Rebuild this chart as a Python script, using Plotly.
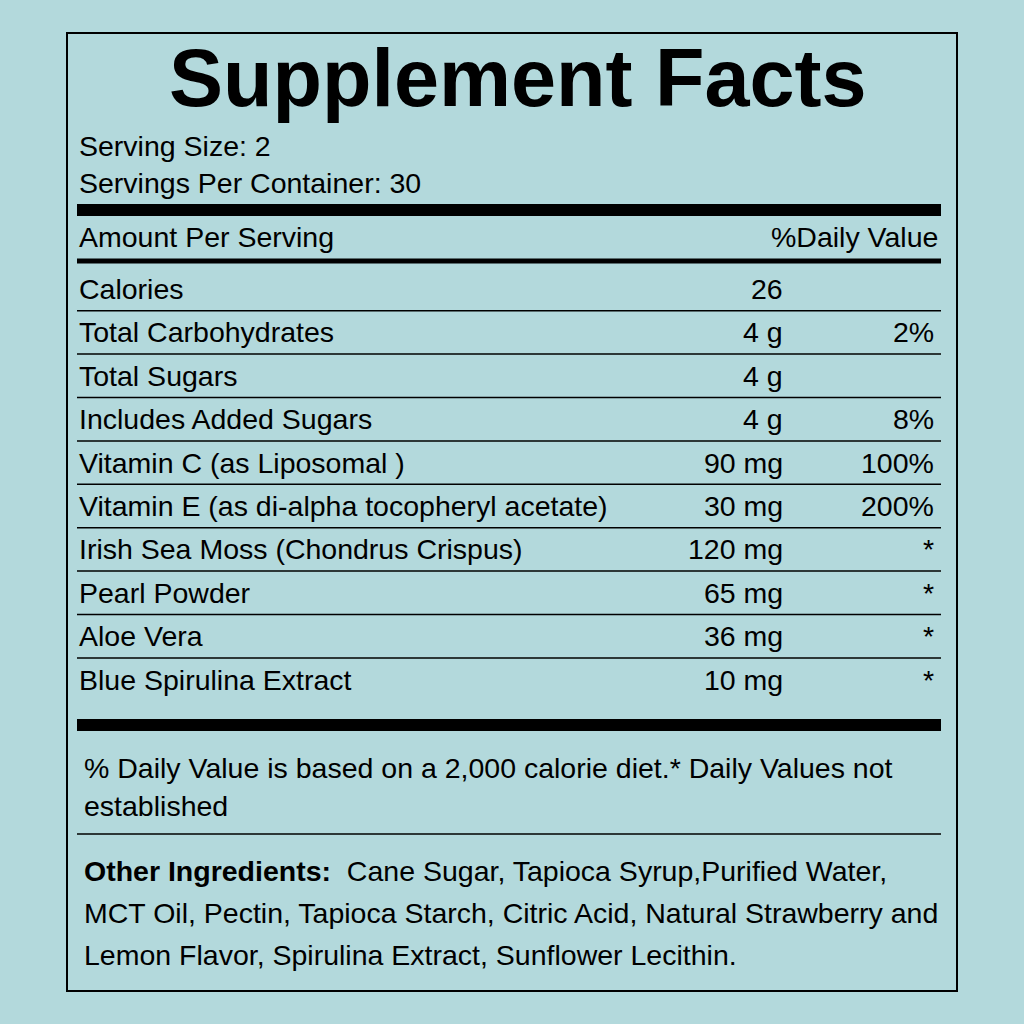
import plotly.graph_objects as go

title = "Supplement Facts"
serving_lines = ["Serving Size: 2", "Servings Per Container: 30"]
nutrients = ["Calories", "Total Carbohydrates", "Total Sugars", "Includes Added Sugars",
             "Vitamin C (as Liposomal )", "Vitamin E (as di-alpha tocopheryl acetate)",
             "Irish Sea Moss (Chondrus Crispus)", "Pearl Powder", "Aloe Vera", "Blue Spirulina Extract"]
amounts = ["26", "4 g", "4 g", "4 g", "90 mg", "30 mg", "120 mg", "65 mg", "36 mg", "10 mg"]
daily_values = ["", "2%", "", "8%", "100%", "200%", "*", "*", "*", "*"]
footnote = ["% Daily Value is based on a 2,000 calorie diet.* Daily Values not", "established"]
other_lines = ["<b>Other Ingredients:</b>  Cane Sugar, Tapioca Syrup,Purified Water,",
               "MCT Oil, Pectin, Tapioca Starch, Citric Acid, Natural Strawberry and",
               "Lemon Flavor, Spirulina Extract, Sunflower Lecithin."]

F = "Liberation Sans, Arial, sans-serif"
FS = 28.5
BG = "#b3d9dc"
fig = go.Figure()
ann = []
shapes = []

def txt(x, y, t, anchor="left", size=FS):
    ann.append(dict(x=x, y=y, xref="x", yref="y", text=t, showarrow=False,
                    xanchor=anchor, yanchor="middle",
                    font=dict(family=F, size=size, color="black")))

def line(y, w, x0=77, x1=941):
    shapes.append(dict(type="line", x0=x0, x1=x1, y0=y, y1=y, xref="x", yref="y",
                       line=dict(color="black", width=w)))

shapes.append(dict(type="rect", x0=67, x1=957, y0=33, y1=991, xref="x", yref="y",
                   line=dict(color="black", width=2)))
ann.append(dict(x=518, y=78, xref="x", yref="y", text="<b>" + title + "</b>", showarrow=False,
                xanchor="center", yanchor="middle", font=dict(family=F, size=81, color="black")))
for i, s in enumerate(serving_lines):
    txt(77, 146 + 37 * i, s)
line(210, 12)
txt(77, 237, "Amount Per Serving")
txt(940, 237, "%Daily Value", "right")
line(261, 5)
y0, dy = 289, 43.4
for i, (n, a, d) in enumerate(zip(nutrients, amounts, daily_values)):
    y = y0 + dy * i
    txt(77, y, n)
    txt(785, y, a, "right")
    if d:
        txt(936, y, d, "right")
    if i < len(nutrients) - 1:
        line(y + dy / 2, 1.5)
line(725, 12)
for i, s in enumerate(footnote):
    txt(82, 768 + 38 * i, s)
line(834, 1.5)
for i, s in enumerate(other_lines):
    txt(82, 871 + 42 * i, s)

fig.update_layout(width=1024, height=1024, margin=dict(l=0, r=0, t=0, b=0),
                  paper_bgcolor=BG, plot_bgcolor=BG,
                  xaxis=dict(range=[0, 1024], visible=False, fixedrange=True),
                  yaxis=dict(range=[1024, 0], visible=False, fixedrange=True),
                  annotations=ann, shapes=shapes, showlegend=False)
fig.write_html("out.html", config={"displayModeBar": False},
               post_script="document.body.style.margin='0';document.body.style.background='%s';" % BG)
